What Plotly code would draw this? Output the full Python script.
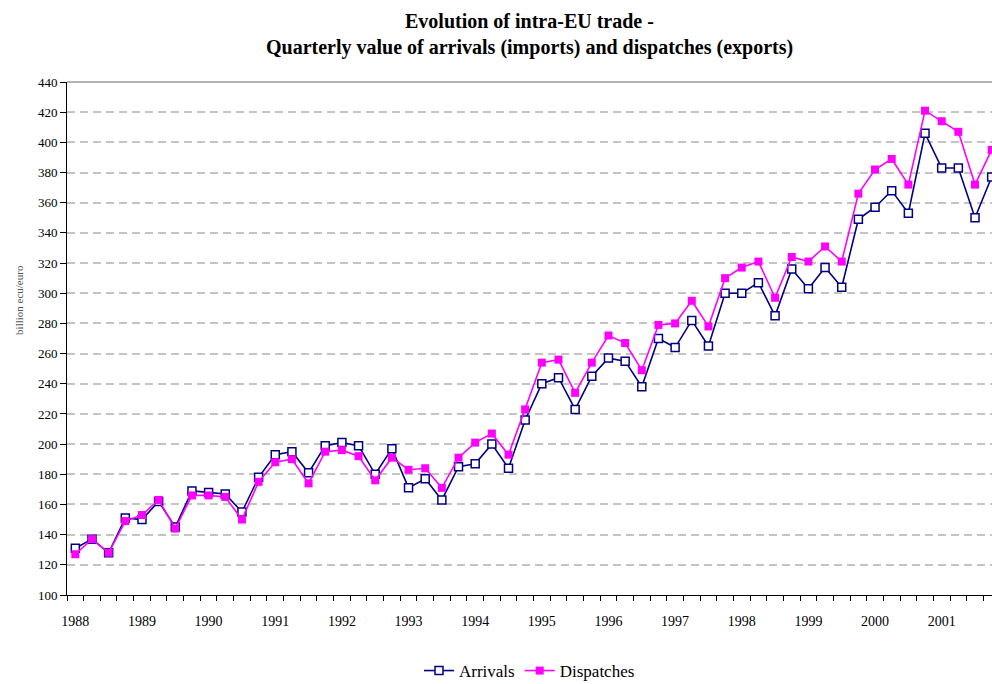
import plotly.graph_objects as go

years = [1988, 1989, 1990, 1991, 1992, 1993, 1994, 1995, 1996, 1997, 1998, 1999, 2000, 2001]
quarters = ["Q1", "Q2", "Q3", "Q4"]

arrivals = [
    131, 137, 128, 151,
    150, 162, 145, 169,
    168, 167, 155, 178,
    193, 195, 181, 199,
    201, 199, 180, 197,
    171, 177, 163, 185,
    187, 200, 184, 216,
    240, 244, 223, 245,
    257, 255, 238, 270,
    264, 282, 265, 300,
    300, 307, 285, 316,
    303, 317, 304, 349,
    357, 368, 353, 406,
    383, 383, 350, 377,
]
dispatches = [
    127, 137, 128, 149,
    153, 163, 144, 166,
    166, 165, 150, 175,
    188, 190, 174, 195,
    196, 192, 176, 191,
    183, 184, 171, 191,
    201, 207, 193, 223,
    254, 256, 234, 254,
    272, 267, 249, 279,
    280, 295, 278, 310,
    317, 321, 297, 324,
    321, 331, 321, 366,
    382, 389, 372, 421,
    414, 407, 372, 395,
]

labels = [f"{y} {q}" for y in years for q in quarters]
x_idx = list(range(len(labels)))
year_pos = [i for i, lab in enumerate(labels) if lab.endswith("Q1")]
year_text = [str(y) for y in years]

SERIF = "Liberation Serif, Times New Roman, serif"

fig = go.Figure()
fig.add_trace(go.Scatter(
    x=x_idx, y=arrivals, name="Arrivals", mode="lines+markers",
    line=dict(color="#000080", width=1.6),
    marker=dict(symbol="square", size=8, color="white", line=dict(color="#000080", width=1.5)),
    cliponaxis=False,
))
fig.add_trace(go.Scatter(
    x=x_idx, y=dispatches, name="Dispatches", mode="lines+markers",
    line=dict(color="#FF00FF", width=1.6),
    marker=dict(symbol="square", size=8, color="#FF00FF", line=dict(color="#FF00FF", width=0)),
    cliponaxis=False,
))

fig.update_layout(
    width=992, height=684,
    margin=dict(l=67, r=0, t=82, b=89, autoexpand=False),
    paper_bgcolor="white", plot_bgcolor="white",
    font=dict(family=SERIF, color="black", size=13),
    showlegend=True,
    legend=dict(orientation="h", x=0.5, xanchor="center",
                yref="container", y=(684 - 671) / 684, yanchor="middle",
                font=dict(family=SERIF, size=17), itemwidth=30, tracegroupgap=0),
    xaxis=dict(
        range=[-0.5, 55.02], showgrid=False, zeroline=False,
        showline=True, linecolor="black", linewidth=1,
        tickmode="array", tickvals=year_pos, ticktext=year_text,
        ticks="", ticklabelstandoff=13,
        tickfont=dict(family=SERIF, size=14),
        minor=dict(tickmode="linear", tick0=-0.5, dtick=1, ticks="outside",
                   ticklen=5, tickcolor="black", showgrid=False),
    ),
    yaxis=dict(
        range=[100, 440], tick0=100, dtick=20, showgrid=True,
        gridcolor="#c4c4c4", gridwidth=1.5, griddash="8px,5px",
        zeroline=False, showline=True, linecolor="black", linewidth=1,
        ticks="outside", ticklen=6, tickcolor="black",
        tickfont=dict(family=SERIF, size=13),
    ),
    shapes=[dict(type="line", xref="paper", yref="paper", x0=0, x1=1, y0=1, y1=1,
                 line=dict(color="#9a9a9a", width=1.5))],
    annotations=[
        dict(text="<b>Evolution of intra-EU trade -</b>", xref="paper", yref="paper",
             x=0.5, y=(595 - 21) / 513, xanchor="center", yanchor="middle", showarrow=False,
             font=dict(family=SERIF, size=20, color="black")),
        dict(text="<b>Quarterly value of arrivals (imports) and dispatches (exports)</b>",
             xref="paper", yref="paper", x=0.5, y=(595 - 47) / 513, xanchor="center", yanchor="middle",
             showarrow=False, font=dict(family=SERIF, size=20, color="black")),
        dict(text="billion ecu/euro", xref="paper", yref="paper", x=-0.052, y=0.575,
             xanchor="center", yanchor="middle", textangle=-90, showarrow=False,
             font=dict(family=SERIF, size=11, color="#555555")),
    ],
)

fig.write_html("out.html", config={"displayModeBar": False},
               post_script="document.body.style.margin='0';")
